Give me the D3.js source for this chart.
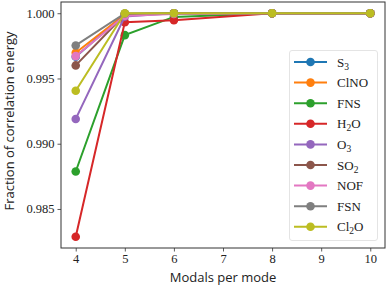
<!DOCTYPE html>
<html>
<head>
<meta charset="utf-8">
<script src="https://cdn.jsdelivr.net/npm/d3@7"></script>
<style>
body { margin: 0; background: #fff; }
svg text { fill: #222; }
.tick text { font-family: "Liberation Serif", "DejaVu Serif", serif; font-size: 12.5px; }
.lab { font-family: "Open Sans", "DejaVu Sans", sans-serif; font-size: 13px; }
.leg text { font-family: "Liberation Serif", serif; font-size: 13px; }
</style>
</head>
<body>
<div id="main_div"></div>
<script>
var modals = [4, 5, 6, 8, 10];
var names = ["S3", "ClNO", "FNS", "H2O", "O3", "SO2", "NOF", "FSN", "Cl2O"];
var colors = ["#1f77b4", "#ff7f0e", "#2ca02c", "#d62728", "#9467bd", "#8c564b", "#e377c2", "#7f7f7f", "#bcbd22"];
var S3   = [0.99666, 0.99995, 1.0, 1.0, 1.0];
var ClNO = [0.99697, 0.99990, 1.0, 1.0, 1.0];
var FNS  = [0.98787, 0.99832, 0.99972, 1.0, 1.0];
var H2O  = [0.98287, 0.99931, 0.99946, 1.0, 1.0];
var O3   = [0.99190, 0.99975, 1.0, 1.0, 1.0];
var SO2  = [0.99600, 0.99990, 1.0, 1.0, 1.0];
var NOF  = [0.99671, 0.99980, 0.99995, 1.0, 1.0];
var FSN  = [0.99753, 0.99998, 1.0, 1.0, 1.0];
var Cl2O = [0.99406, 1.0, 1.0, 1.0, 1.0];
var series = [S3, ClNO, FNS, H2O, O3, SO2, NOF, FSN, Cl2O];
var xTicks = [4, 5, 6, 7, 8, 9, 10];
var yTicks = [0.985, 0.990, 0.995, 1.000];

var x_scale = d3.scaleLinear().domain([3.7, 10.3]).range([61, 385]);
var y_scale = d3.scaleLinear().domain([0.98201, 1.00086]).range([248, 2]);

var svg = d3.select("#main_div").append("svg").attr("width", 387).attr("height", 286);

var gx = svg.append("g").attr("transform", "translate(0,248)")
    .call(d3.axisBottom(x_scale).tickValues(xTicks).tickFormat(d3.format("d")).tickSize(3.5).tickPadding(3));
var gy = svg.append("g").attr("transform", "translate(61,0)")
    .call(d3.axisLeft(y_scale).tickValues(yTicks).tickFormat(d3.format(".3f")).tickSize(3.5).tickPadding(3));
[gx, gy].forEach(function(g) {
    g.select(".domain").remove();
    g.selectAll(".tick line").attr("stroke", "#333").attr("stroke-width", 0.8);
});

svg.append("rect").attr("x", 61).attr("y", 2).attr("width", 324).attr("height", 246)
    .attr("fill", "none").attr("stroke", "#333").attr("stroke-width", 1);

var line = d3.line().x(function(d, i) { return x_scale(modals[i]); }).y(function(d) { return y_scale(d); });

series.forEach(function(s, k) {
    var g = svg.append("g");
    g.append("path").datum(s).attr("d", line).attr("fill", "none")
        .attr("stroke", colors[k]).attr("stroke-width", 2);
    g.selectAll("circle").data(s).enter().append("circle")
        .attr("cx", function(d, i) { return x_scale(modals[i]); })
        .attr("cy", function(d) { return y_scale(d); })
        .attr("r", 4.3).attr("fill", colors[k]);
});

svg.append("text").attr("class", "lab").attr("text-anchor", "middle")
    .attr("x", 223).attr("y", 281.5).text("Modals per mode");
svg.append("text").attr("class", "lab").attr("text-anchor", "middle")
    .attr("transform", "translate(13.5,121) rotate(-90)").text("Fraction of correlation energy");

// legend
var leg = svg.append("g").attr("class", "leg");
leg.append("rect").attr("x", 289.5).attr("y", 50.5).attr("width", 88).attr("height", 190).attr("rx", 2.5)
    .attr("fill", "#fff").attr("fill-opacity", 0.8).attr("stroke", "#ddd").attr("stroke-width", 0.8);
var labels = [["S", "3", ""], ["ClNO", "", ""], ["FNS", "", ""], ["H", "2", "O"], ["O", "3", ""],
    ["SO", "2", ""], ["NOF", "", ""], ["FSN", "", ""], ["Cl", "2", "O"]];
labels.forEach(function(l, k) {
    var y = 62 + k * 20.6;
    leg.append("line").attr("x1", 294).attr("x2", 327).attr("y1", y).attr("y2", y)
        .attr("stroke", colors[k]).attr("stroke-width", 2);
    leg.append("circle").attr("cx", 310.5).attr("cy", y).attr("r", 4.3).attr("fill", colors[k]);
    var t = leg.append("text").attr("x", 337).attr("y", y + 4.5);
    t.append("tspan").text(l[0]);
    if (l[1]) t.append("tspan").attr("dy", 3).attr("font-size", 9.5).text(l[1]);
    if (l[2]) t.append("tspan").attr("dy", -3).text(l[2]);
});
</script>
</body>
</html>
